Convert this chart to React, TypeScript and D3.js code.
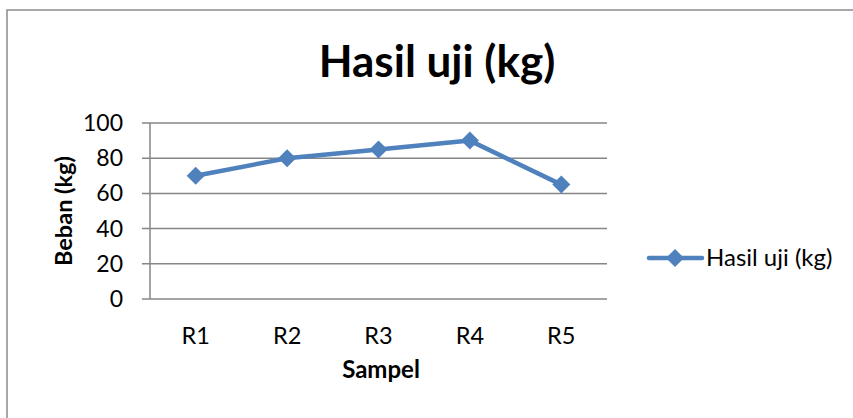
import * as d3 from "d3";

const categories = ["R1", "R2", "R3", "R4", "R5"];
const values = [70, 80, 85, 90, 65];
const yTicks = [0, 20, 40, 60, 80, 100];
const seriesName = "Hasil uji (kg)";

const W = 853;
const H = 418;
const plot = { left: 150, right: 607, top: 123, bottom: 299 };
const blue = "#4F81BD";
const grid = "#868686";
const font = "Lato, 'Open Sans', sans-serif";

const diamond = (cx: number, cy: number, r: number) =>
  `M${cx},${cy - r}L${cx + r},${cy}L${cx},${cy + r}L${cx - r},${cy}Z`;

export default function App() {
  const x = d3.scaleBand<string>().domain(categories).range([plot.left, plot.right]);
  const y = d3.scaleLinear().domain([0, 100]).range([plot.bottom, plot.top]);
  const cx = (c: string) => (x(c) ?? 0) + x.bandwidth() / 2;

  const line = d3
    .line<number>()
    .x((_, i) => cx(categories[i]))
    .y((d) => y(d));

  return (
    <svg
      width={W}
      height={H}
      style={{ position: "absolute", left: 0, top: 0, fontFamily: font }}
    >
      <rect x={0} y={0} width={W} height={H} fill="#fff" />
      <rect x={7} y={10} width={W} height={H} fill="none" stroke="#8c8c8c" strokeWidth={1.5} />

      <text x={437} y={77} textAnchor="middle" fontSize={44} fontWeight="bold" fill="#000">
        {seriesName}
      </text>

      {yTicks.map((t) => (
        <g key={t}>
          <line x1={142} x2={plot.right} y1={y(t)} y2={y(t)} stroke={grid} strokeWidth={1.5} />
          <text x={123} y={y(t) + 8} textAnchor="end" fontSize={23} fill="#000">
            {t}
          </text>
        </g>
      ))}
      <line x1={plot.left} x2={plot.left} y1={plot.top} y2={plot.bottom} stroke={grid} strokeWidth={1.5} />

      {categories.map((c) => (
        <text key={c} x={cx(c)} y={344} textAnchor="middle" fontSize={23.5} fill="#000">
          {c}
        </text>
      ))}

      <text x={381} y={378} textAnchor="middle" fontSize={24} fontWeight="bold" fill="#000">
        Sampel
      </text>
      <text
        transform={`translate(72,211) rotate(-90)`}
        textAnchor="middle"
        fontSize={23.5}
        fontWeight="bold"
        fill="#000"
      >
        Beban (kg)
      </text>

      <path d={line(values) ?? ""} fill="none" stroke={blue} strokeWidth={4.5} strokeLinejoin="round" />
      {values.map((v, i) => (
        <path key={i} d={diamond(cx(categories[i]), y(v), 9)} fill={blue} />
      ))}

      <line x1={649} x2={702} y1={258} y2={258} stroke={blue} strokeWidth={4.5} strokeLinecap="round" />
      <path d={diamond(675, 258, 9)} fill={blue} />
      <text x={706} y={266} fontSize={24} fill="#000">
        {seriesName}
      </text>
    </svg>
  );
}
